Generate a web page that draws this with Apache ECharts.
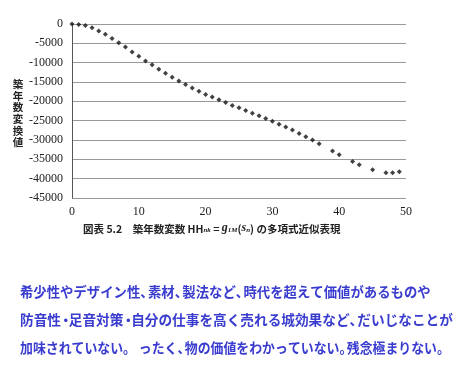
<!DOCTYPE html>
<html><head><meta charset="utf-8">
<script src="https://cdn.jsdelivr.net/npm/echarts@6/dist/echarts.min.js"></script>
<style>html,body{margin:0;padding:0;background:#fff}#c{width:456px;height:370px}</style>
</head><body><div id="c"></div>
<script>
const xValues = [0,1,2,3,4,5,6,7,8,9,10,11,12,13,14,15,16,17,18,19,20,21,22,23,24,25,26,27,28,29,30,31,32,33,34,35,36,37,39,40,42,43,45,47,48,49];
const yValues = [0,-100,-400,-1000,-1800,-2650,-3780,-4880,-5980,-7220,-8340,-9540,-10560,-11700,-12730,-13750,-14720,-15660,-16520,-17380,-18230,-18850,-19620,-20300,-21080,-21690,-22370,-23060,-23750,-24430,-25120,-25900,-26660,-27440,-28300,-29160,-30020,-30970,-32860,-33810,-35530,-36400,-37690,-38460,-38460,-38200];
const yTicks = [0,-5000,-10000,-15000,-20000,-25000,-30000,-35000,-40000,-45000];
const xTicks = [0,10,20,30,40,50];
const yTitle = '築年数変換値';
const bodyLines = [
  '希少性やデザイン性、素材、製法など、時代を超えて価値があるものや',
  '防音性・足音対策・自分の仕事を高く売れる城効果など、だいじなことが',
  '加味されていない。 ったく、物の価値をわかっていない。残念極まりない。'
];

const chart = echarts.init(document.getElementById('c'));
const serif = '"Liberation Serif","DejaVu Serif",serif';
const jp = '"Noto Sans CJK JP",sans-serif';

// wrap punctuation in narrow spans (proportional look)
function toRich(t) {
  let out = '', buf = '';
  for (let k = 0; k < t.length; k++) {
    const ch = t[k];
    const narrow = (ch === '、' || ch === '・' || (ch === '。' && k !== 8));
    if (narrow) {
      if (buf) { out += '{n|' + buf + '}'; buf = ''; }
      out += (ch === '・' ? '{d|' : '{p|') + ch + '}';
    } else buf += ch;
  }
  if (buf) out += '{n|' + buf + '}';
  return out;
}
const bodyScale = [0.955, 0.975, 0.92];
const blue = '#3a3ccf';
const bodyRich = {
  n: {fontFamily: jp, fontSize: 14, fontWeight: 'bold', fill: blue},
  p: {fontFamily: jp, fontSize: 14, fontWeight: 'bold', fill: blue, width: 8, align: 'left'},
  d: {fontFamily: jp, fontSize: 14, fontWeight: 'bold', fill: blue, width: 10, align: 'left', padding: [0,0,0,-2]}
};

chart.setOption({
  animation: false,
  backgroundColor: '#fff',
  grid: {left: 72, top: 24, right: 50, bottom: 172},
  xAxis: {
    type: 'value', min: 0, max: 50, interval: 10,
    axisLine: {show: false}, axisTick: {show: false},
    splitLine: {show: false},
    axisLabel: {color: '#222', fontFamily: serif, fontSize: 12, margin: 8}
  },
  yAxis: {
    type: 'value', min: -45000, max: 0, interval: 5000,
    axisLine: {show: true, lineStyle: {color: '#555', width: 1}},
    axisTick: {show: false},
    splitLine: {show: true, lineStyle: {color: '#999', width: 1}},
    axisLabel: {color: '#222', fontFamily: serif, fontSize: 12, margin: 9,
      formatter: v => String(v)}
  },
  series: [{
    type: 'scatter',
    symbol: 'diamond', symbolSize: 5,
    itemStyle: {color: '#111'},
    data: xValues.map((x, i) => [x, yValues[i]])
  }],
  title: {
    left: 78, top: 214,
    text: '{a|図表 5.2　築年数変数 HH}{s|nk}{a| = }{i|g}{s|1M}{a|(}{i|s}{s|n}{a|) の多項式近似表現}',
    textStyle: {
      rich: {
        a: {fontFamily: jp, fontSize: 10.5, fontWeight: 'bold', color: '#222', verticalAlign: 'bottom', lineHeight: 15},
        i: {fontFamily: serif, fontSize: 12, fontStyle: 'italic', fontWeight: 'bold', color: '#222', verticalAlign: 'bottom', lineHeight: 15},
        s: {fontFamily: serif, fontSize: 7, fontStyle: 'italic', color: '#222', verticalAlign: 'bottom', lineHeight: 11}
      }
    }
  },
  graphic: [
    {type: 'text', x: 18, y: 78,
      style: {text: yTitle.split('').join('\n'), fontFamily: jp, fontSize: 10.5, fontWeight: 'bold',
        fill: '#222', lineHeight: 11.7, align: 'center', verticalAlign: 'top'}},
    ...bodyLines.map((t, i) => ({
      type: 'text', x: 20, y: 291.5 + i * 28, scaleX: bodyScale[i],
      style: {text: toRich(t), rich: bodyRich, fill: blue, verticalAlign: 'middle', align: 'left'}
    }))
  ]
});
</script></body></html>
